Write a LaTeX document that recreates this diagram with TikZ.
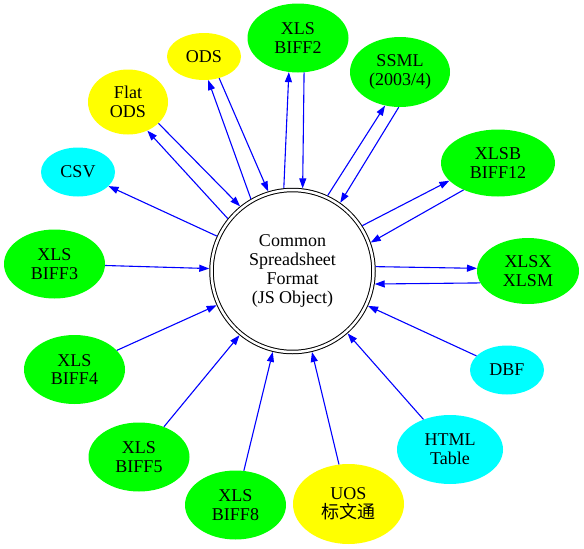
\documentclass[tikz,border=0pt]{standalone}
\usepackage{fontspec}
\setmainfont{Liberation Serif}
\newfontfamily\cjk{Noto Sans CJK SC}
\usetikzlibrary{arrows.meta,shapes.geometric}
\definecolor{aqua}{RGB}{0,255,255}
\definecolor{lime}{RGB}{0,255,0}
\definecolor{gold}{RGB}{255,255,0}

\begin{document}
\begin{tikzpicture}[x=1pt,y=-1pt,
		>={Triangle[length=10pt,width=7pt]},
		fmt/.style={ellipse,inner sep=0pt,align=center,font=\fontsize{18}{18.7}\selectfont},
		xls/.style={fmt,fill=lime,minimum width=101pt,minimum height=69pt},
		ods/.style={fmt,fill=gold},
		txt/.style={fmt,fill=aqua},
		edge/.style={->,blue,line width=1.1pt}]
		\useasboundingbox (0,0) rectangle (584,549);
		% hub
		\node [circle,draw,double,double distance=2.5pt,line width=1pt,outer sep=2.25pt,
			minimum size=162pt,align=center,font=\fontsize{18}{18.7}\selectfont] (csf) at (292.5,271)
			{Common\\Spreadsheet\\Format\\(JS Object)};
		% formats round the hub
		\node [xls] (biff2) at (298,38) {XLS\\BIFF2};
		\node [xls,minimum width=100pt,minimum height=70pt] (ssml) at (400,72) {SSML\\(2003/4)};
		\node [ods,minimum width=74pt,minimum height=47pt] (ods) at (204,56.5) {ODS};
		\node [ods,minimum width=80pt,minimum height=65pt] (flat) at (128,102) {Flat\\ODS};
		\node [txt,minimum width=74pt,minimum height=49pt] (csv) at (78,172) {CSV};
		\node [xls,minimum width=114pt,minimum height=67pt] (xlsb) at (498,163) {XLSB\\BIFF12};
		\node [xls] (biff3) at (54.5,264) {XLS\\BIFF3};
		\node [xls,minimum width=102pt,minimum height=66pt] (xlsx) at (528,271) {XLSX\\XLSM};
		\node [xls] (biff4) at (74.5,369.5) {XLS\\BIFF4};
		\node [txt,minimum width=74pt,minimum height=49pt] (dbf) at (507,370) {DBF};
		\node [xls] (biff5) at (139,457) {XLS\\BIFF5};
		\node [txt,minimum width=106pt,minimum height=69pt] (html) at (450,449.5) {HTML\\Table};
		\node [xls] (biff8) at (235.5,505) {XLS\\BIFF8};
		\node [ods,minimum width=111pt,minimum height=80pt] (uos) at (348.5,504) {UOS\\{\cjk 标文通}};
		% read and write
		\draw [edge] (csf.120) -- (ods.280);
		\draw [edge] (ods.305) -- (csf.107);
		\draw [edge] (csf.141) -- (flat.304);
		\draw [edge] (flat.325) -- (csf.129);
		\draw [edge] (csf.96) -- (biff2.255);
		\draw [edge] (biff2.280) -- (csf.83);
		\draw [edge] (csf.65) -- (ssml.246);
		\draw [edge] (ssml.268) -- (csf.55);
		\draw [edge] (csf.33) -- (xlsb.200);
		\draw [edge] (xlsb.218) -- (csf.20);
		\draw [edge] (csf.3.5) -- (xlsx.177);
		\draw [edge] (xlsx.194) -- (csf.-9);
		% write only
		\draw [edge] (csf) -- (csv);
		% read only
		\draw [edge] (biff3) -- (csf);
		\draw [edge] (biff4) -- (csf);
		\draw [edge] (biff5) -- (csf);
		\draw [edge] (biff8) -- (csf);
		\draw [edge] (uos) -- (csf);
		\draw [edge] (html) -- (csf);
		\draw [edge] (dbf) -- (csf);
	\end{tikzpicture}
\end{document}
